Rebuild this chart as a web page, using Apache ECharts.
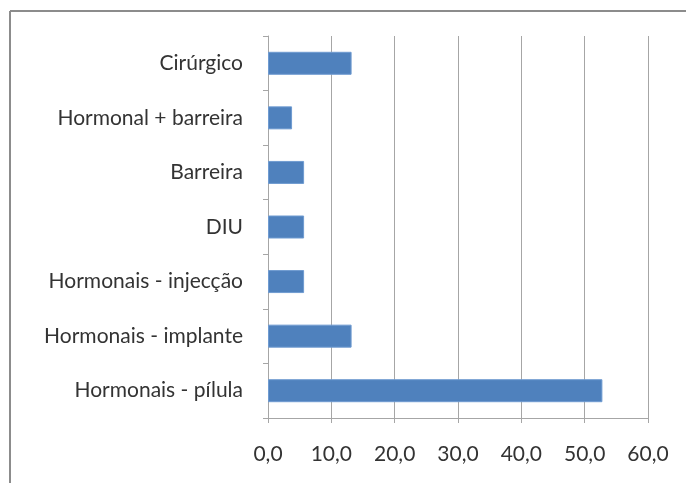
<!DOCTYPE html>
<html>
<head>
<meta charset="utf-8">
<script src="https://cdn.jsdelivr.net/npm/echarts@6/dist/echarts.min.js"></script>
<style>
  html, body { margin: 0; padding: 0; background: #fff; }
  #chart { width: 686px; height: 483px; }
</style>
</head>
<body>
<div id="chart"></div>
<script>
// categories top to bottom
var categories = ['Cirúrgico', 'Hormonal + barreira', 'Barreira', 'DIU', 'Hormonais - injecção', 'Hormonais - implante', 'Hormonais - pílula'];
var values = [13.2, 3.8, 5.7, 5.7, 5.7, 13.2, 52.8];
var tickLabels = ['0,0', '10,0', '20,0', '30,0', '40,0', '50,0', '60,0'];

var myChart = echarts.init(document.getElementById('chart'));
var option;

option = {
  animation: false,
  textStyle: { fontFamily: 'Lato' },
  grid: { left: 268, right: 38, top: 36, bottom: 65 },
  // frame of the original picture (top and left edges only)
  graphic: [
    { type: 'line', shape: { x1: 10, y1: 11, x2: 686, y2: 11 }, style: { stroke: '#8c8c8c', lineWidth: 2 } },
    { type: 'line', shape: { x1: 10, y1: 11, x2: 10, y2: 483 }, style: { stroke: '#8c8c8c', lineWidth: 2 } }
  ],
  xAxis: {
    type: 'value',
    min: 0,
    max: 60,
    interval: 10,
    axisLine: { show: true, lineStyle: { color: '#a6a6a6', width: 1 } },
    axisTick: { show: true, length: 5, lineStyle: { color: '#a6a6a6' } },
    splitLine: { show: true, lineStyle: { color: '#a6a6a6', width: 1 } },
    axisLabel: {
      color: '#333',
      fontSize: 21,
      margin: 26,
      formatter: function (v) { return tickLabels[Math.round(v / 10)]; }
    }
  },
  yAxis: {
    type: 'category',
    inverse: true,
    data: categories,
    axisLine: { show: true, lineStyle: { color: '#a6a6a6', width: 1 } },
    axisTick: { show: true, length: 5, lineStyle: { color: '#a6a6a6' } },
    axisLabel: { color: '#333', fontSize: 21, margin: 25 }
  },
  series: [
    {
      type: 'bar',
      data: values,
      barWidth: 23,
      itemStyle: { color: '#4f81bd', borderColor: '#6f9bd1', borderWidth: 1 }
    }
  ]
};

option && myChart.setOption(option);
</script>
</body>
</html>
